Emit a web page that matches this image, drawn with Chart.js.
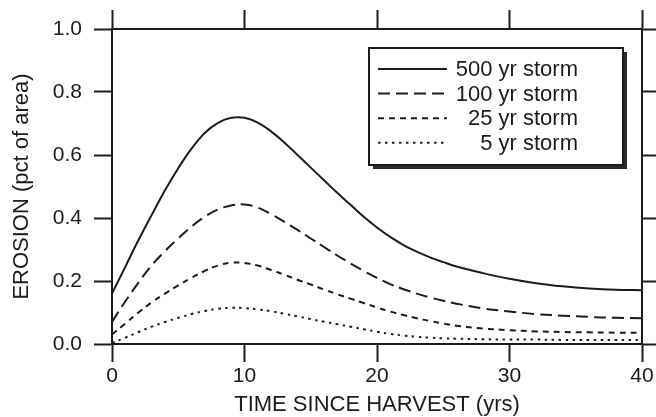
<!DOCTYPE html>
<html>
<head>
    <title>Erosion after harvest</title>
    <script src="https://cdn.jsdelivr.net/npm/chart.js"></script>
    <style>
        body { margin: 0; background: #fff; }
    </style>
</head>
<body>
    <canvas id="erosionChart" width="656" height="417"></canvas>

    <script>
        // years since harvest
        const years = [0, 1, 2, 3, 4, 5, 6, 7, 8, 9, 10, 11, 12, 13, 14, 15, 16, 17, 18, 19, 20,
                       21, 22, 23, 24, 25, 26, 28, 30, 32, 34, 36, 38, 40];

        // erosion (pct of area) per storm size
        const storm500 = [0.16, 0.245, 0.33, 0.41, 0.488, 0.558, 0.62, 0.67, 0.702, 0.718, 0.718,
                          0.703, 0.675, 0.64, 0.60, 0.56, 0.52, 0.48, 0.442, 0.404, 0.37,
                          0.34, 0.314, 0.293, 0.275, 0.26, 0.246, 0.225, 0.207, 0.193, 0.183, 0.176, 0.172, 0.171];
        const storm100 = [0.07, 0.135, 0.195, 0.25, 0.295, 0.335, 0.373, 0.404, 0.427, 0.44, 0.443,
                          0.433, 0.412, 0.388, 0.362, 0.335, 0.308, 0.281, 0.256, 0.232, 0.21,
                          0.19, 0.174, 0.16, 0.148, 0.137, 0.128, 0.113, 0.103, 0.095, 0.09, 0.086, 0.083, 0.082];
        const storm25 = [0.03, 0.065, 0.10, 0.132, 0.16, 0.186, 0.21, 0.232, 0.249, 0.258, 0.257,
                         0.249, 0.235, 0.22, 0.204, 0.189, 0.173, 0.158, 0.144, 0.13, 0.116,
                         0.103, 0.092, 0.082, 0.073, 0.065, 0.058, 0.049, 0.044, 0.04, 0.038, 0.037, 0.036, 0.036];
        const storm5 = [0.003, 0.02, 0.038, 0.055, 0.07, 0.083, 0.095, 0.105, 0.112, 0.115, 0.114,
                        0.11, 0.104, 0.096, 0.088, 0.079, 0.071, 0.063, 0.055, 0.047, 0.039,
                        0.032, 0.027, 0.023, 0.02, 0.018, 0.017, 0.015, 0.014, 0.014, 0.013, 0.013, 0.013, 0.013];

        const stormLabels = ['500 yr storm', '100 yr storm', '25 yr storm', '5 yr storm'];
        const xTicks = [0, 10, 20, 30, 40];
        const yTicks = [0.0, 0.2, 0.4, 0.6, 0.8, 1.0];

        const INK = '#1c1c1c';
        const FONT = "'Liberation Sans', Arial, sans-serif";
        const dashes = [[], [12, 6], [6, 5], [2.5, 4.5]];

        function toPoints(values) {
            return years.map((x, i) => ({ x: x, y: values[i] }));
        }

        const datasets = [storm500, storm100, storm25, storm5].map((values, i) => ({
            label: stormLabels[i],
            data: toPoints(values),
            borderColor: INK,
            borderWidth: 2,
            borderDash: dashes[i],
            pointRadius: 0,
            fill: false,
            tension: 0.4
        }));

        // boxed legend with a drop shadow, text right aligned
        const boxLegend = {
            id: 'boxLegend',
            afterDraw(chart) {
                const ctx = chart.ctx;
                const x0 = 369, y0 = 48, w = 254, h = 117;
                ctx.save();
                ctx.fillStyle = '#2a2a2a';
                ctx.fillRect(x0 + 4, y0 + 4, w, h);
                ctx.fillStyle = '#fff';
                ctx.fillRect(x0, y0, w, h);
                ctx.strokeStyle = INK;
                ctx.lineWidth = 2;
                ctx.strokeRect(x0, y0, w, h);

                ctx.font = '22px ' + FONT;
                ctx.fillStyle = INK;
                ctx.textAlign = 'right';
                ctx.textBaseline = 'middle';
                chart.data.datasets.forEach((ds, i) => {
                    const y = 69 + i * 24.6;
                    ctx.beginPath();
                    ctx.setLineDash(ds.borderDash);
                    ctx.lineWidth = 2;
                    ctx.moveTo(378, y);
                    ctx.lineTo(447, y);
                    ctx.stroke();
                    ctx.setLineDash([]);
                    ctx.fillText(ds.label, 578, y + 1);
                });
                ctx.restore();
            }
        };

        const axisGrid = (len) => ({
            drawOnChartArea: false,
            tickLength: len,
            tickWidth: 2,
            tickColor: INK
        });
        const axisBorder = { display: true, color: INK, width: 2 };

        const ctx = document.getElementById('erosionChart').getContext('2d');
        new Chart(ctx, {
            type: 'line',
            data: { datasets: datasets },
            plugins: [boxLegend],
            options: {
                responsive: false,
                animation: false,
                devicePixelRatio: 1,
                layout: { padding: 0 },
                plugins: {
                    legend: { display: false },
                    tooltip: { enabled: false }
                },
                scales: {
                    x: {
                        type: 'linear',
                        position: 'bottom',
                        min: 0,
                        max: 40,
                        afterBuildTicks: (s) => { s.ticks = xTicks.map(v => ({ value: v })); },
                        afterFit: (s) => { s.height = 73; },
                        grid: axisGrid(18),
                        border: axisBorder,
                        ticks: {
                            color: INK,
                            padding: 2,
                            font: { family: FONT, size: 21 }
                        },
                        title: {
                            display: true,
                            text: 'TIME SINCE HARVEST (yrs)',
                            color: INK,
                            font: { family: FONT, size: 22, lineHeight: 1 },
                            padding: { top: 0, bottom: 1 }
                        }
                    },
                    x2: {
                        type: 'linear',
                        position: 'top',
                        min: 0,
                        max: 40,
                        afterBuildTicks: (s) => { s.ticks = xTicks.map(v => ({ value: v })); },
                        afterFit: (s) => { s.height = 29; },
                        grid: axisGrid(19),
                        border: axisBorder,
                        ticks: { display: false }
                    },
                    y: {
                        type: 'linear',
                        position: 'left',
                        min: 0,
                        max: 1,
                        afterBuildTicks: (s) => { s.ticks = yTicks.map(v => ({ value: v })); },
                        afterFit: (s) => { s.width = 112; },
                        grid: axisGrid(18),
                        border: axisBorder,
                        ticks: {
                            color: INK,
                            padding: 12,
                            font: { family: FONT, size: 21 },
                            callback: (v) => Number(v).toFixed(1)
                        },
                        title: {
                            display: true,
                            text: 'EROSION (pct of area)',
                            color: INK,
                            font: { family: FONT, size: 22, lineHeight: 1 },
                            padding: { top: 11, bottom: 0 }
                        }
                    },
                    y2: {
                        type: 'linear',
                        position: 'right',
                        min: 0,
                        max: 1,
                        afterBuildTicks: (s) => { s.ticks = yTicks.map(v => ({ value: v })); },
                        afterFit: (s) => { s.width = 14; },
                        grid: axisGrid(14),
                        border: axisBorder,
                        ticks: { display: false }
                    }
                }
            }
        });
    </script>
</body>
</html>
